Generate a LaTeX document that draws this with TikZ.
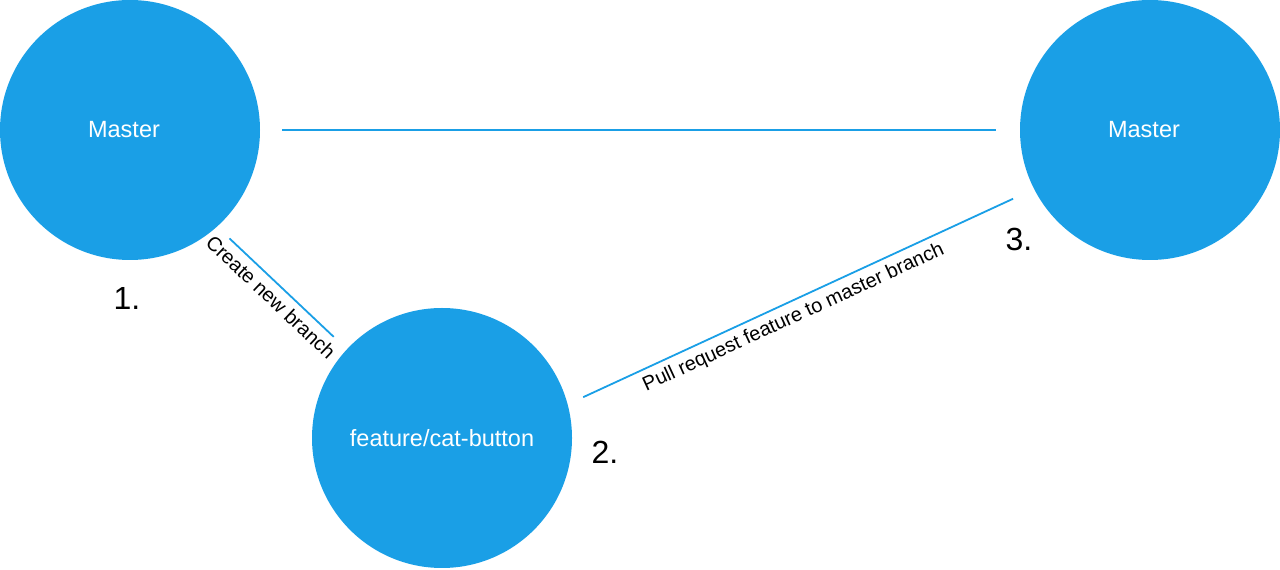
\documentclass[tikz,border=0pt]{standalone}
\usepackage{fontspec}
\setmainfont{Liberation Sans}
\usetikzlibrary{positioning}
\definecolor{branchblue}{RGB}{26,159,230}

\begin{document}
\begin{tikzpicture}[
    x=1pt, y=1pt,
    branch/.style={circle, fill=branchblue, text=white, inner sep=0pt, minimum size=260pt, font=\fontsize{23.5}{28}\selectfont},
    stepnum/.style={font=\fontsize{32}{38}\selectfont, inner sep=0pt},
    link/.style={draw=branchblue, line width=1.8pt},
    linklabel/.style={sloped, font=\fontsize{20}{24}\selectfont, inner sep=6pt}
]
\useasboundingbox (0,0) rectangle (1280,570);

\node[branch] (m1) at (130,440) {\hspace*{-12pt}Master};
\node[branch] (m2) at (1150,440) {\hspace*{-12pt}Master};
\node[branch] (f) at (442,132) {feature/cat-button};

\node[stepnum] (n1) at (127,272) {1.};
\node[stepnum] (n2) at (605,118) {2.};
\node[stepnum] (n3) at (1019,331) {3.};

\draw[link, shorten <=22pt, shorten >=24pt] (m1.east) -- (m2.west);
\draw[link, shorten <=17pt, shorten >=18pt] (m1.-48) -- node[linklabel, below, pos=0.49] {Create new branch} (f.137.5);
\draw[link, shorten <=17pt, shorten >=23pt] (f.15.8) -- node[linklabel, below, pos=0.47] {Pull request feature to master branch} (m2.207.6);
\end{tikzpicture}
\end{document}
